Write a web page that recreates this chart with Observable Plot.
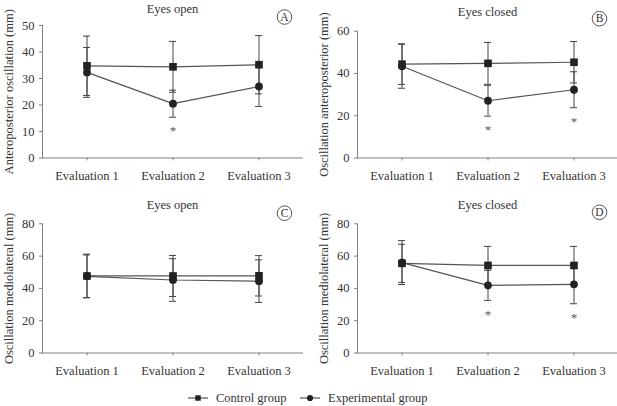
<!DOCTYPE html>
<html>
<head>
<meta charset="utf-8">
<script src="https://cdn.jsdelivr.net/npm/d3@7"></script>
<script src="https://cdn.jsdelivr.net/npm/@observablehq/plot@0.6"></script>
<style>
  body { margin: 0; background: #fff; }
  #chart { position: relative; width: 617px; height: 406px; font-family: "Liberation Serif", "Times New Roman", serif; color: #333; }
  #chart svg { position: absolute; overflow: visible; }
</style>
</head>
<body>
<div id="chart"></div>
<script>
// Categories
const evaluations = ["Evaluation 1", "Evaluation 2", "Evaluation 3"];
const groups = ["Control group", "Experimental group"];

// A: anteroposterior oscillation, eyes open (mean and SD, mm)
const apOpenControl = [34.8, 34.4, 35.2];
const apOpenControlSD = [11.2, 9.6, 11.0];
const apOpenExperimental = [32.3, 20.5, 27.0];
const apOpenExperimentalSD = [9.4, 5.1, 7.6];
const apOpenSignificant = [false, true, false];

// B: anteroposterior oscillation, eyes closed
const apClosedControl = [44.4, 44.8, 45.3];
const apClosedControlSD = [9.6, 9.9, 9.8];
const apClosedExperimental = [43.4, 27.1, 32.3];
const apClosedExperimentalSD = [10.4, 7.3, 8.5];
const apClosedSignificant = [false, true, true];

// C: mediolateral oscillation, eyes open
const mlOpenControl = [47.7, 47.7, 47.8];
const mlOpenControlSD = [13.5, 12.7, 12.5];
const mlOpenExperimental = [47.5, 45.2, 44.5];
const mlOpenExperimentalSD = [13.2, 13.2, 13.2];
const mlOpenSignificant = [false, false, false];

// D: mediolateral oscillation, eyes closed
const mlClosedControl = [55.5, 54.2, 54.2];
const mlClosedControlSD = [11.8, 11.8, 11.8];
const mlClosedExperimental = [56.0, 41.9, 42.5];
const mlClosedExperimentalSD = [13.6, 9.3, 12.0];
const mlClosedSignificant = [false, true, true];

// Axis ticks
const ticksA = [0, 10, 20, 30, 40, 50];
const ticksB = [0, 20, 40, 60];
const ticksCD = [0, 20, 40, 60, 80];

const FONT = '"Liberation Serif", "Times New Roman", serif';
const TEXT = "#333";
const AXIS = "#808080";
const INK = "#222";
const LINE = "#555";

function panel(cfg) {
  const rows = [];
  evaluations.forEach((e, i) => {
    rows.push({evaluation: e, group: groups[0], mean: cfg.control[i], sd: cfg.controlSD[i], sig: false});
    rows.push({evaluation: e, group: groups[1], mean: cfg.experimental[i], sd: cfg.experimentalSD[i], sig: cfg.significant[i]});
  });
  const ctrl = rows.filter(d => d.group === groups[0]);
  const expt = rows.filter(d => d.group === groups[1]);
  const lo = d => d.mean - d.sd;
  const hi = d => d.mean + d.sd;

  const svg = Plot.plot({
    width: 302,
    height: 190,
    marginLeft: 42,
    marginRight: 0,
    marginTop: cfg.marginTop,
    marginBottom: cfg.marginBottom,
    style: {fontFamily: FONT, fontSize: "12.5px", color: TEXT, background: "transparent", overflow: "visible"},
    // narrow bands: the band width sets the width of the error-bar caps
    x: {type: "band", domain: evaluations, paddingInner: 0.919, paddingOuter: 0.471, align: 0.512, label: null},
    y: {domain: [0, cfg.ticks[cfg.ticks.length - 1]], label: null},
    marks: [
      Plot.frame({anchor: "left", stroke: AXIS}),
      Plot.frame({anchor: "bottom", stroke: AXIS}),
      Plot.axisX({tickSize: 3, tickPadding: 10, stroke: AXIS, fill: TEXT, fontSize: 12.5}),
      Plot.axisY({ticks: cfg.ticks, tickSize: 3, tickPadding: 5, stroke: AXIS, fill: TEXT, fontSize: 12.5,
                  label: cfg.yLabel, labelAnchor: "center", labelArrow: "none", labelOffset: 38}),
      // error bars (mean ± SD)
      Plot.ruleX(rows, {x: "evaluation", y1: lo, y2: hi, stroke: "#444", strokeWidth: 1}),
      Plot.tickY(rows, {x: "evaluation", y: hi, stroke: "#444", strokeWidth: 1}),
      Plot.tickY(rows, {x: "evaluation", y: lo, stroke: "#444", strokeWidth: 1}),
      // group means
      Plot.lineY(expt, {x: "evaluation", y: "mean", stroke: LINE, strokeWidth: 1.2}),
      Plot.lineY(ctrl, {x: "evaluation", y: "mean", stroke: LINE, strokeWidth: 1.2}),
      Plot.dot(expt, {x: "evaluation", y: "mean", symbol: "circle", r: 3.9, fill: INK, stroke: null}),
      Plot.dot(ctrl, {x: "evaluation", y: "mean", symbol: "square", r: 4.3, fill: INK, stroke: null}),
      // significance markers below the experimental group's error bar
      Plot.text(expt.filter(d => d.sig), {x: "evaluation", y: lo, text: () => "*", dy: 14, fill: "#555", fontSize: 13, lineAnchor: "middle"}),
      // panel title and circled letter
      Plot.text([cfg.title], {frameAnchor: "top", dy: cfg.titleDy, fill: TEXT, fontSize: 12.5, lineAnchor: "middle"}),
      Plot.dot([cfg.letter], {frameAnchor: "top-right", dx: -18, dy: cfg.letterDy, r: 7.3, stroke: "#444", strokeWidth: 0.9, fill: "none"}),
      Plot.text([cfg.letter], {frameAnchor: "top-right", dx: -18, dy: cfg.letterDy, text: d => d, textAnchor: "middle", fill: TEXT, fontSize: 11.5, lineAnchor: "middle"})
    ]
  });
  svg.style.left = cfg.left + "px";
  svg.style.top = cfg.top + "px";
  return svg;
}

const chart = document.getElementById("chart");

chart.appendChild(panel({
  left: 0, top: 0, marginTop: 25, marginBottom: 32.5,
  title: "Eyes open", letter: "A", titleDy: -17, letterDy: -8.5,
  yLabel: "Anteroposterior oscillation (mm)", ticks: ticksA,
  control: apOpenControl, controlSD: apOpenControlSD,
  experimental: apOpenExperimental, experimentalSD: apOpenExperimentalSD,
  significant: apOpenSignificant
}));

chart.appendChild(panel({
  left: 315, top: 0, marginTop: 30.7, marginBottom: 32.5,
  title: "Eyes closed", letter: "B", titleDy: -19, letterDy: -12.5,
  yLabel: "Oscillation anteroposterior (mm)", ticks: ticksB,
  control: apClosedControl, controlSD: apClosedControlSD,
  experimental: apClosedExperimental, experimentalSD: apClosedExperimentalSD,
  significant: apClosedSignificant
}));

chart.appendChild(panel({
  left: 0, top: 190, marginTop: 33.3, marginBottom: 27.5,
  title: "Eyes open", letter: "C", titleDy: -19.3, letterDy: -10.6,
  yLabel: "Oscillation mediolateral (mm)", ticks: ticksCD,
  control: mlOpenControl, controlSD: mlOpenControlSD,
  experimental: mlOpenExperimental, experimentalSD: mlOpenExperimentalSD,
  significant: mlOpenSignificant
}));

chart.appendChild(panel({
  left: 315, top: 190, marginTop: 33.3, marginBottom: 27.5,
  title: "Eyes closed", letter: "D", titleDy: -19.3, letterDy: -11.5,
  yLabel: "Oscillation mediolateral (mm)", ticks: ticksCD,
  control: mlClosedControl, controlSD: mlClosedControlSD,
  experimental: mlClosedExperimental, experimentalSD: mlClosedExperimentalSD,
  significant: mlClosedSignificant
}));

// Shared legend below the panels
const legend = d3.create("svg")
  .attr("width", 617).attr("height", 26)
  .style("left", "0px").style("top", "385px")
  .style("font-family", FONT).style("font-size", "12.5px");
const items = [
  {label: groups[0], symbol: d3.symbolSquare, size: 30, x: 188},
  {label: groups[1], symbol: d3.symbolCircle, size: 30, x: 300}
];
const g = legend.selectAll("g").data(items).join("g")
  .attr("transform", d => `translate(${d.x},13)`);
g.append("line").attr("x1", 0).attr("x2", 20).attr("stroke", LINE).attr("stroke-width", 1.2);
g.append("path").attr("transform", "translate(10,0)")
  .attr("d", d => d3.symbol(d.symbol, d.size)()).attr("fill", INK);
g.append("text").attr("x", 28).attr("dy", "0.32em").attr("fill", TEXT).text(d => d.label);
chart.appendChild(legend.node());
</script>
</body>
</html>
